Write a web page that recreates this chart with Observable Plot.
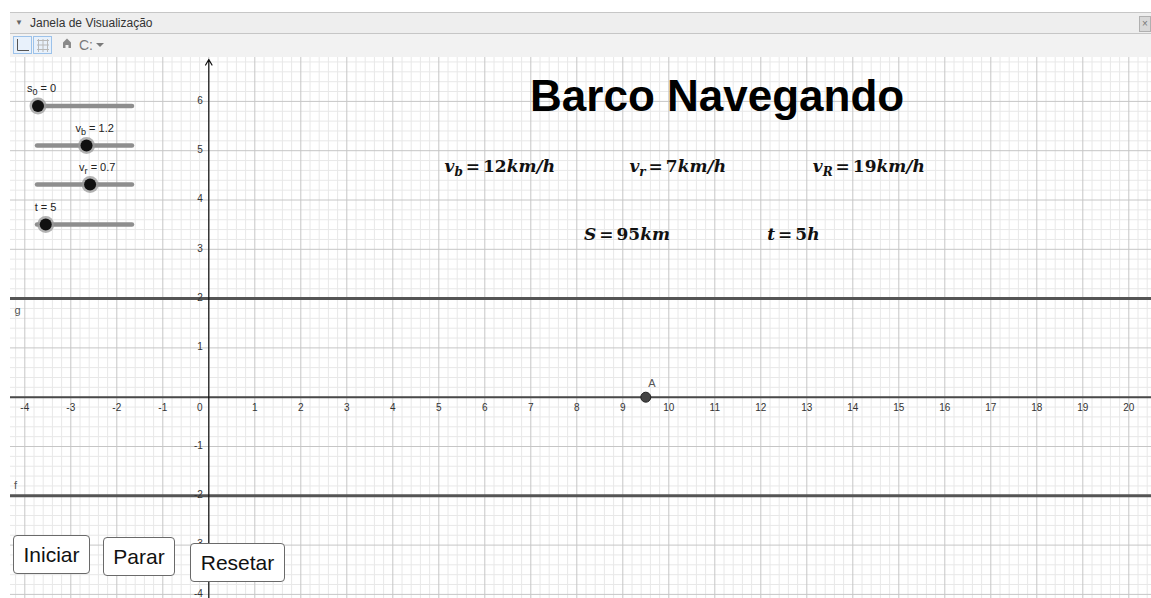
<!DOCTYPE html>
<html><head><meta charset="utf-8">
<script src="https://cdn.jsdelivr.net/npm/d3@7"></script>
<script src="https://cdn.jsdelivr.net/npm/@observablehq/plot@0.6"></script>
<style>
body{margin:0;background:#fff;font-family:"Liberation Sans",Arial,sans-serif;}
#wrap{position:relative;width:1151px;height:598px;overflow:hidden;background:#fff;}
#hdr{position:absolute;left:10px;top:12px;width:1141px;height:20px;background:#eeeeee;border-top:1px solid #c6c6c6;border-bottom:1px solid #c6c6c6;font-size:12px;color:#333;line-height:20px;box-sizing:content-box;}
#hdr .tri{position:absolute;left:5px;top:0;font-size:8px;color:#666;}
#hdr .ttl{position:absolute;left:20px;top:0;}
#hdr .x{position:absolute;right:0;top:3px;width:10px;height:14px;background:#d8d8d8;border:1px solid #b0b0b0;font-size:10px;line-height:13px;color:#777;text-align:center;}
#tool{position:absolute;left:10px;top:34px;width:1141px;height:23px;background:#f2f2f2;}
#chart{position:absolute;left:10px;top:57px;}
#ui{position:absolute;left:0;top:0;pointer-events:none;}
.btn{position:absolute;background:#fff;border:1px solid #6a6a6a;border-radius:4px;font-size:21px;color:#111;display:flex;align-items:center;justify-content:center;box-sizing:border-box;}
</style>
</head><body>
<div id="wrap">
  <div id="hdr"><span class="tri">&#9660;</span><span class="ttl">Janela de Visualização</span><span class="x">&#215;</span></div>
  <div id="tool">
    <svg width="120" height="23">
      <rect x="3.5" y="2.5" width="18" height="17" fill="#e8f1fb" stroke="#9cc2ea"/>
      <path d="M7.5 5 V16.5 H19" fill="none" stroke="#555" stroke-width="1"/>
      <rect x="23.5" y="2.5" width="18" height="17" fill="#e8f1fb" stroke="#9cc2ea"/>
      <path d="M27 6.5H39M27 11H39M27 15.5H39M28.5 5V18M33 5V18M37.5 5V18" stroke="#b9b9b9" stroke-width="1"/>
      <path d="M53 8.5 L57 4.5 L61 8.5 V14 H58.5 V11 H55.5 V14 H53 Z" fill="#8a8a8a"/>
      <text x="69" y="15.5" font-size="14" fill="#7a7a7a" font-family="Liberation Sans, Arial, sans-serif">C:</text>
      <path d="M86 9 L94 9 L90 13 Z" fill="#7a7a7a"/>
    </svg>
  </div>
  <div id="chart"></div>
  <svg id="ui" width="1151" height="598"></svg>
  <div class="btn" style="left:13px;top:535px;width:77px;height:39px;">Iniciar</div>
  <div class="btn" style="left:103px;top:537px;width:72px;height:39px;">Parar</div>
  <div class="btn" style="left:190px;top:543px;width:95px;height:39px;">Resetar</div>
</div>
<script>
// ---- data ----
const xTickValues = [-4,-3,-2,-1,1,2,3,4,5,6,7,8,9,10,11,12,13,14,15,16,17,18,19,20];
const yTickValues = [6,5,4,3,2,1,-1,-2,-3,-4];
const originLabel = ["0"];
const lineNames = ["g","f"];
const lineValues = [2,-2];
const pointNames = ["A"];
const pointX = [9.5];
const pointY = [0];
const titleText = ["Barco Navegando"];
const mathSymbols = ["v","v","v","S","t"];
const mathSubs = ["b","r","R","",""];
const mathValues = ["12","7","19","95","5"];
const mathUnits = ["km/h","km/h","km/h","km","h"];
const sliderNames = ["s","v","v","t"];
const sliderSubs = ["0","b","r",""];
const sliderValues = [0,1.2,0.7,5];
const sliderMin = [0,0,0,0];
const sliderMax = [10,2.3,1.25,60];

// ---- layout ----
const W = 1141, H = 541;
const x0px = 198.3, xUnit = 46, y0px = 339.7, yUnit = 49.3;
const xDomain = [-x0px / xUnit, (W - x0px) / xUnit];
const yDomain = [-(H - y0px) / yUnit, y0px / yUnit];
const mathPos = [[5.135,4.558],[9.154,4.558],[13.14,4.558],[8.167,3.178],[12.15,3.178]];
const titlePos = [11.05, 5.80];
const linePos = [[-4.16,1.76],[-4.2,-1.79]];

const majorX = d3.range(Math.ceil(xDomain[0]), Math.floor(xDomain[1]) + 1);
const majorY = d3.range(Math.ceil(yDomain[0]), Math.floor(yDomain[1]) + 1);
const minorX = d3.range(Math.ceil(xDomain[0]*5), Math.floor(xDomain[1]*5)+1).filter(i => i % 5 !== 0).map(i => i/5);
const minorY = d3.range(Math.ceil(yDomain[0]*5), Math.floor(yDomain[1]*5)+1).filter(i => i % 5 !== 0).map(i => i/5);

const lines = lineNames.map((n,i) => ({name:n, y:lineValues[i], lx:linePos[i][0], ly:linePos[i][1]}));
const points = pointNames.map((n,i) => ({name:n, x:pointX[i], y:pointY[i]}));
const font = "Liberation Sans, Arial, sans-serif";

const plot = Plot.plot({
  width: W, height: H, margin: 0,
  x: {domain: xDomain, axis: null},
  y: {domain: yDomain, axis: null},
  style: {background: "#fff", fontFamily: font, overflow: "visible"},
  marks: [
    Plot.ruleX(minorX, {stroke: "#e8e8e8"}),
    Plot.ruleY(minorY, {stroke: "#e8e8e8"}),
    Plot.ruleX(majorX, {stroke: "#c6c6c6"}),
    Plot.ruleY(majorY, {stroke: "#c6c6c6"}),
    Plot.ruleY(lines, {y: "y", stroke: "#555", strokeWidth: 3}),
    Plot.ruleY([0], {stroke: "#4a4a4a", strokeWidth: 2}),
    Plot.arrow([{x1:0, x2:0, y1:yDomain[0], y2:yDomain[1]-0.04}], {x1:"x1", x2:"x2", y1:"y1", y2:"y2", stroke:"#111", strokeWidth:1.2, headLength:8}),
    Plot.text(xTickValues, {x: d => d, y: () => 0, dy: 11, fontSize: 10, fill: "#333"}),
    Plot.text(originLabel, {x: () => 0, y: () => 0, dx: -9, dy: 11, fontSize: 10, fill: "#333"}),
    Plot.text(yTickValues, {x: () => 0, y: d => d, dx: -6, dy: -1, textAnchor: "end", fontSize: 10, fill: "#333"}),
    Plot.text(lines, {x: "lx", y: "ly", text: "name", fontSize: 11, fill: "#555"}),
    Plot.dot(points, {x: "x", y: "y", r: 5, fill: "#444", stroke: "#222", strokeWidth: 1}),
    Plot.text(points, {x: "x", y: "y", text: "name", dx: 6, dy: -14, fontSize: 11, fill: "#555"}),
    Plot.text(titleText, {x: () => titlePos[0], y: () => titlePos[1], lineAnchor: "bottom", fontSize: 44, fontWeight: "bold", fill: "#000"})
  ]
});
document.getElementById("chart").appendChild(plot);

// math texts (LaTeX-like) positioned through the plot's scales
const xs = plot.scale("x"), ys = plot.scale("y");
const svg = d3.select(plot);
mathSymbols.forEach((s, i) => {
  const t = svg.append("text")
    .attr("x", xs.apply(mathPos[i][0]))
    .attr("y", ys.apply(mathPos[i][1]))
    .attr("text-anchor", "start")
    .attr("font-family", "DejaVu Serif, serif")
    .attr("font-weight", "bold")
    .attr("font-size", 17)
    .attr("fill", "#111");
  t.append("tspan").attr("font-style", "italic").text(s);
  if (mathSubs[i]) {
    t.append("tspan").attr("font-style", "italic").attr("font-size", 12).attr("dy", 4).text(mathSubs[i]);
    t.append("tspan").attr("dy", -4).attr("dx", 3).text("=");
  } else {
    t.append("tspan").attr("dx", 3).text("=");
  }
  t.append("tspan").attr("dx", 3).text(mathValues[i]);
  t.append("tspan").attr("font-style", "italic").text(mathUnits[i]);
});

// sliders (screen-fixed GeoGebra controls)
const ui = d3.select("#ui");
const trackY = [106, 145.5, 184.5, 224.5];
const trackX0 = 37, trackX1 = 132;
sliderNames.forEach((n, i) => {
  const sx = d3.scaleLinear().domain([sliderMin[i], sliderMax[i]]).range([38, 131]);
  const kx = sx(sliderValues[i]);
  ui.append("line").attr("x1", trackX0).attr("x2", trackX1).attr("y1", trackY[i]).attr("y2", trackY[i])
    .attr("stroke", "#8e8e8e").attr("stroke-width", 4.5).attr("stroke-linecap", "round");
  ui.append("circle").attr("cx", kx).attr("cy", trackY[i]).attr("r", 8.5).attr("fill", "#9a9a9a").attr("opacity", 0.75);
  ui.append("circle").attr("cx", kx).attr("cy", trackY[i]).attr("r", 6).attr("fill", "#111");
  const lab = ui.append("text").attr("x", kx - 11).attr("y", trackY[i] - 14)
    .attr("font-family", font).attr("font-size", 11).attr("fill", "#222");
  lab.append("tspan").text(n);
  if (sliderSubs[i]) {
    lab.append("tspan").attr("font-size", 9).attr("dy", 3).text(sliderSubs[i]);
    lab.append("tspan").attr("dy", -3).text(" = " + sliderValues[i]);
  } else {
    lab.append("tspan").text(" = " + sliderValues[i]);
  }
});
</script>
</body></html>
